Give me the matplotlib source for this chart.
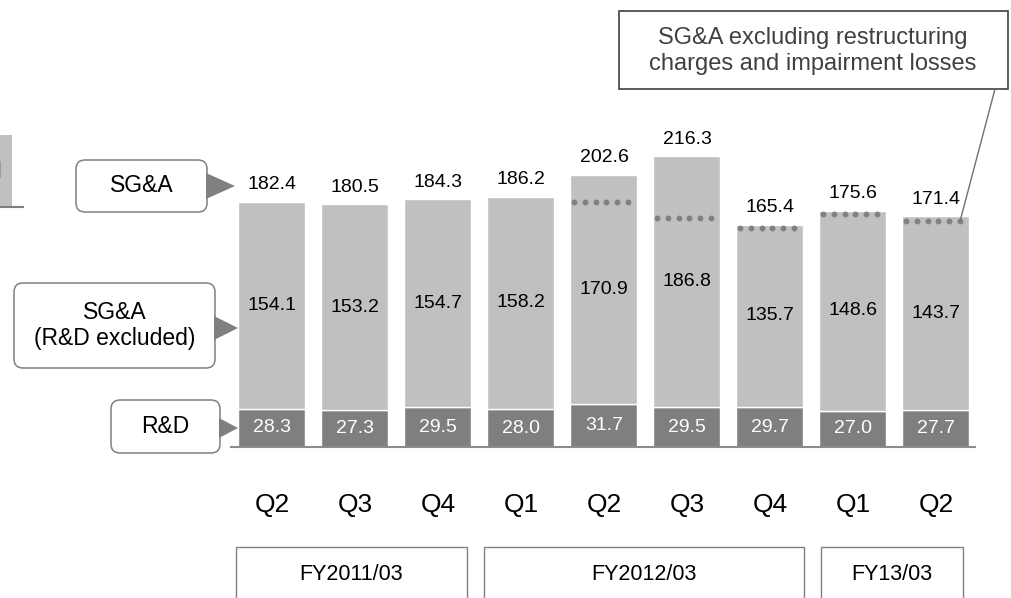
import matplotlib
matplotlib.use("Agg")
import matplotlib.pyplot as plt
from matplotlib.patches import FancyBboxPatch, Rectangle, Polygon, ConnectionPatch

plt.rcParams['font.family'] = ['Liberation Sans', 'DejaVu Sans']

# ---- data (JPY billion) ----
quarters = ["Q2", "Q3", "Q4", "Q1", "Q2", "Q3", "Q4", "Q1", "Q2"]
fiscal_years = ["FY2011/03", "FY2012/03", "FY13/03"]
rd = [28.3, 27.3, 29.5, 28.0, 31.7, 29.5, 29.7, 27.0, 27.7]
sga_ex_rd = [154.1, 153.2, 154.7, 158.2, 170.9, 186.8, 135.7, 148.6, 143.7]
sga_total = [182.4, 180.5, 184.3, 186.2, 202.6, 216.3, 165.4, 175.6, 171.4]
# SG&A excluding restructuring charges and impairment losses (quarters 5-9)
sga_adj_idx = [4, 5, 6, 7, 8]
sga_adj = [182.0, 170.5, 162.6, 173.2, 168.0]

LIGHT = "#c0c0c0"
DARK = "#7f7f7f"
EDGE = "#808080"

W, H = 1012, 598
fig = plt.figure(figsize=(W / 100, H / 100), dpi=100)

# bar axes placed in pixel terms
px_left, px_right, px_base, px_top = 231, 975, 447, 100
ax = fig.add_axes([px_left / W, (H - px_base) / H,
                   (px_right - px_left) / W, (px_base - px_top) / H])
spacing = 83.0
ax.set_xlim((px_left - 272) / spacing, (px_right - 272) / spacing)
ppu = 1.345
ax.set_ylim(0, (px_base - px_top) / ppu)
for s in ["top", "right", "left"]:
    ax.spines[s].set_visible(False)
ax.spines["bottom"].set_color("#8c8c8c")
ax.spines["bottom"].set_linewidth(1.5)
ax.set_xticks([])
ax.set_yticks([])
ax.patch.set_visible(False)

x = list(range(len(quarters)))
bw = 67 / spacing
ax.bar(x, rd, width=bw, color=DARK, edgecolor="white", linewidth=1.0, zorder=2)
ax.bar(x, sga_ex_rd, bottom=rd, width=bw, color=LIGHT, edgecolor="white",
       linewidth=1.0, zorder=2)

for i in x:
    ax.text(i, rd[i] / 2, f"{rd[i]:.1f}", ha="center", va="center",
            color="white", fontsize=14, zorder=4)
    ax.text(i, rd[i] + sga_ex_rd[i] / 2, f"{sga_ex_rd[i]:.1f}", ha="center",
            va="center", color="black", fontsize=14, zorder=4)
    ax.annotate(f"{sga_total[i]:.1f}", (i, rd[i] + sga_ex_rd[i]),
                xytext=(0, 17), textcoords="offset pixels", ha="center",
                va="center", fontsize=14, color="black", zorder=4)
    ax.text(i, -58 / ppu, quarters[i], ha="center", va="center",
            fontsize=19, color="black", clip_on=False)

# dotted marker rows
n_dots = 6
for k, i in enumerate(sga_adj_idx):
    xs = [i - 0.36 + j * 0.13 for j in range(n_dots)]
    ax.plot(xs, [sga_adj[k]] * n_dots, linestyle="none", marker="o",
            markersize=3.2, color=EDGE, zorder=3)

# overlay axes in pixel coordinates for callouts and frames
ov = fig.add_axes([0, 0, 1, 1])
ov.set_xlim(0, W)
ov.set_ylim(H, 0)
ov.set_axis_off()
ov.patch.set_visible(False)


def callout(x0, y0, x1, y1, lines, tip, base_x, half):
    box = FancyBboxPatch((x0, y0), x1 - x0, y1 - y0,
                         boxstyle="round,pad=0,rounding_size=9",
                         facecolor="white", edgecolor=EDGE, linewidth=1.1,
                         zorder=5)
    ov.add_patch(box)
    tri = Polygon([(base_x, tip[1] - half), (tip[0], tip[1]),
                   (base_x, tip[1] + half)], closed=True,
                  facecolor=EDGE, edgecolor="none", zorder=6)
    ov.add_patch(tri)
    ov.text((x0 + x1) / 2, (y0 + y1) / 2, lines, ha="center", va="center",
            fontsize=16.5, color="black", linespacing=1.2, zorder=7)


callout(76, 160, 207, 212, "SG&A", (235, 186), 206, 13)
callout(14, 283, 215, 368, "SG&A\n(R&D excluded)", (238, 328), 214, 12)
callout(111, 400, 220, 453, "R&D", (238, 428), 219, 10)

# annotation box for the adjusted SG&A series
ov.add_patch(Rectangle((619, 11), 389, 78, facecolor="white",
                       edgecolor="#404040", linewidth=1.2, zorder=5))
ov.text(813, 51, "SG&A excluding restructuring\ncharges and impairment losses",
        ha="center", va="center", fontsize=17, color="#404040",
        linespacing=1.2, zorder=6)
con = ConnectionPatch(xyA=(995, 89), coordsA=ov.transData,
                      xyB=(sga_adj_idx[-1] - 0.36 + (n_dots - 1) * 0.13,
                           sga_adj[-1]),
                      coordsB=ax.transData, color="#707070", linewidth=1.0,
                      zorder=4)
fig.add_artist(con)

# fiscal-year frames
fy_spans = [(236, 467), (484, 804), (821, 963)]
for (a, b), label in zip(fy_spans, fiscal_years):
    ov.add_patch(Rectangle((a, 547), b - a, 70, facecolor="white",
                           edgecolor=EDGE, linewidth=1.0, zorder=5))
    ov.text((a + b) / 2, 575, label, ha="center", va="center",
            fontsize=15.5, color="black", zorder=6)

# unit tag at the left edge
ov.add_patch(Rectangle((-20, 135), 32, 72, facecolor=LIGHT, edgecolor="none",
                       zorder=5))
ov.plot([0, 23], [207, 207], color=EDGE, linewidth=1.5, zorder=6)
ov.text(2, 178, "UNIT: BILLION YEN", ha="right", va="baseline", fontsize=17,
        color="#333333", zorder=7)

fig.savefig("out.png", dpi=100)
